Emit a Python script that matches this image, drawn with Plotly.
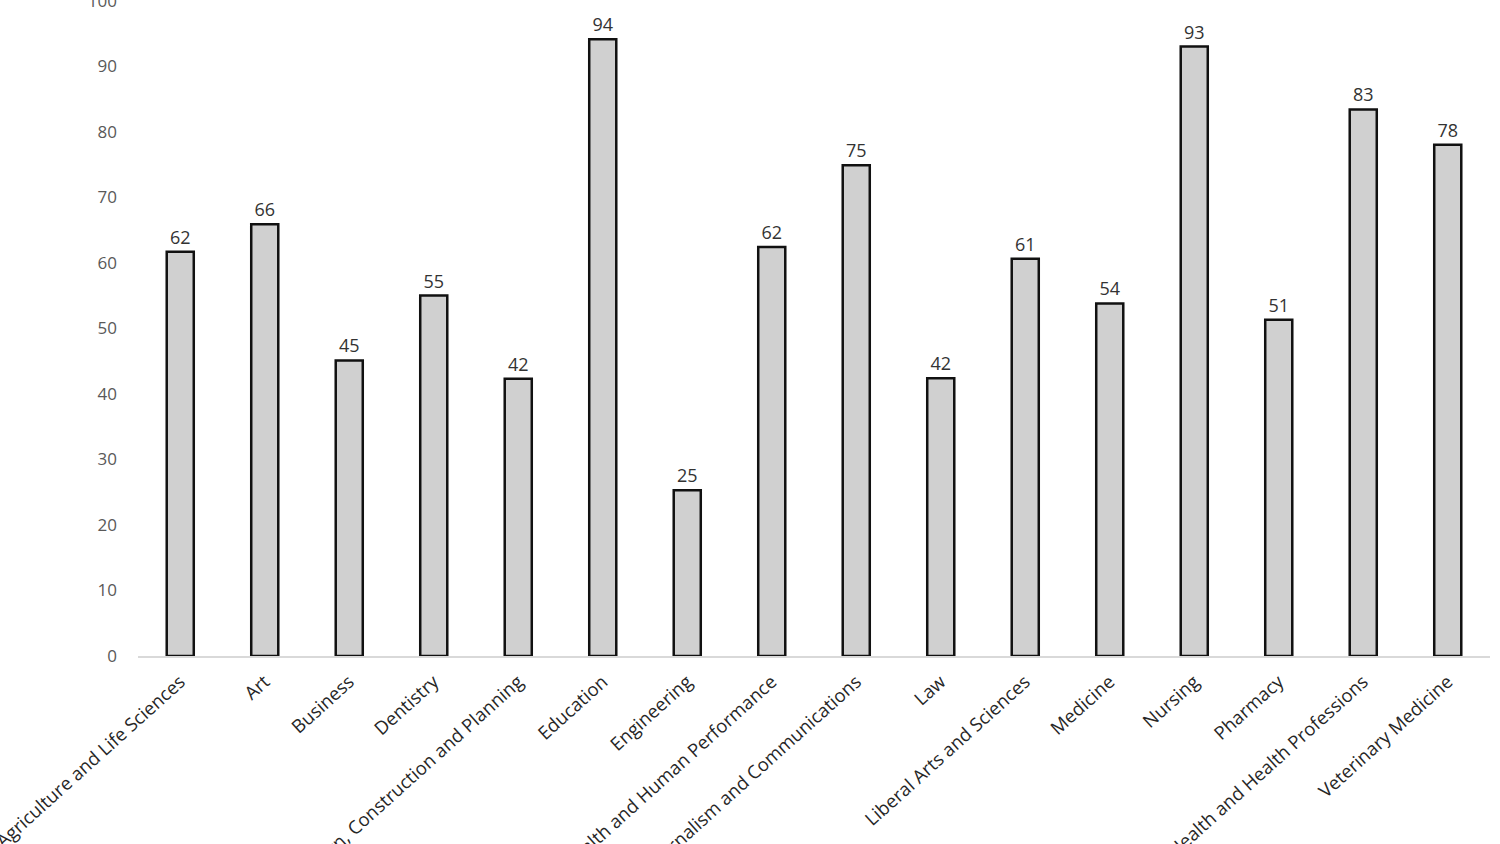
import plotly.graph_objects as go

categories = [
    "Agriculture and Life Sciences", "Art", "Business", "Dentistry",
    "Design, Construction and Planning", "Education", "Engineering",
    "Health and Human Performance", "Journalism and Communications", "Law",
    "Liberal Arts and Sciences", "Medicine", "Nursing", "Pharmacy",
    "Public Health and Health Professions", "Veterinary Medicine",
]
values = [61.7, 65.9, 45.1, 55.0, 42.3, 94.1, 25.3, 62.4, 74.9, 42.4,
          60.6, 53.8, 93.0, 51.3, 83.4, 78.0]
y_ticks = [0, 10, 20, 30, 40, 50, 60, 70, 80, 90, 100]

fig = go.Figure(go.Bar(
    x=categories, y=values,
    marker=dict(color="#d0d0d0", line=dict(color="#111111", width=2.5)),
    texttemplate="%{y:.0f}", textposition="outside", cliponaxis=False,
    textfont=dict(family="Open Sans", size=18, color="#333333"),
))

fig.update_layout(
    width=1500, height=844,
    margin=dict(l=138, r=10, t=0, b=188),
    plot_bgcolor="white", paper_bgcolor="white",
    bargap=0.68, showlegend=False,
    font=dict(family="Open Sans", color="#404040"),
)
fig.update_xaxes(
    tickangle=-42, automargin=False, showgrid=False,
    showline=True, linecolor="#d9d9d9", linewidth=1.5, ticks="",
    ticklabelstandoff=6,
    tickfont=dict(family="Open Sans", size=18.5, color="#262626"),
)
fig.update_yaxes(
    range=[0, 100.1], tickvals=y_ticks, showgrid=False, zeroline=False,
    showline=False, automargin=False, ticks="", ticklabelstandoff=20,
    ticklabeloverflow="allow",
    tickfont=dict(family="Open Sans", size=17, color="#595959"),
)

fig.write_html("out.html", config={"displayModeBar": False},
               post_script="document.body.style.margin='0';")
